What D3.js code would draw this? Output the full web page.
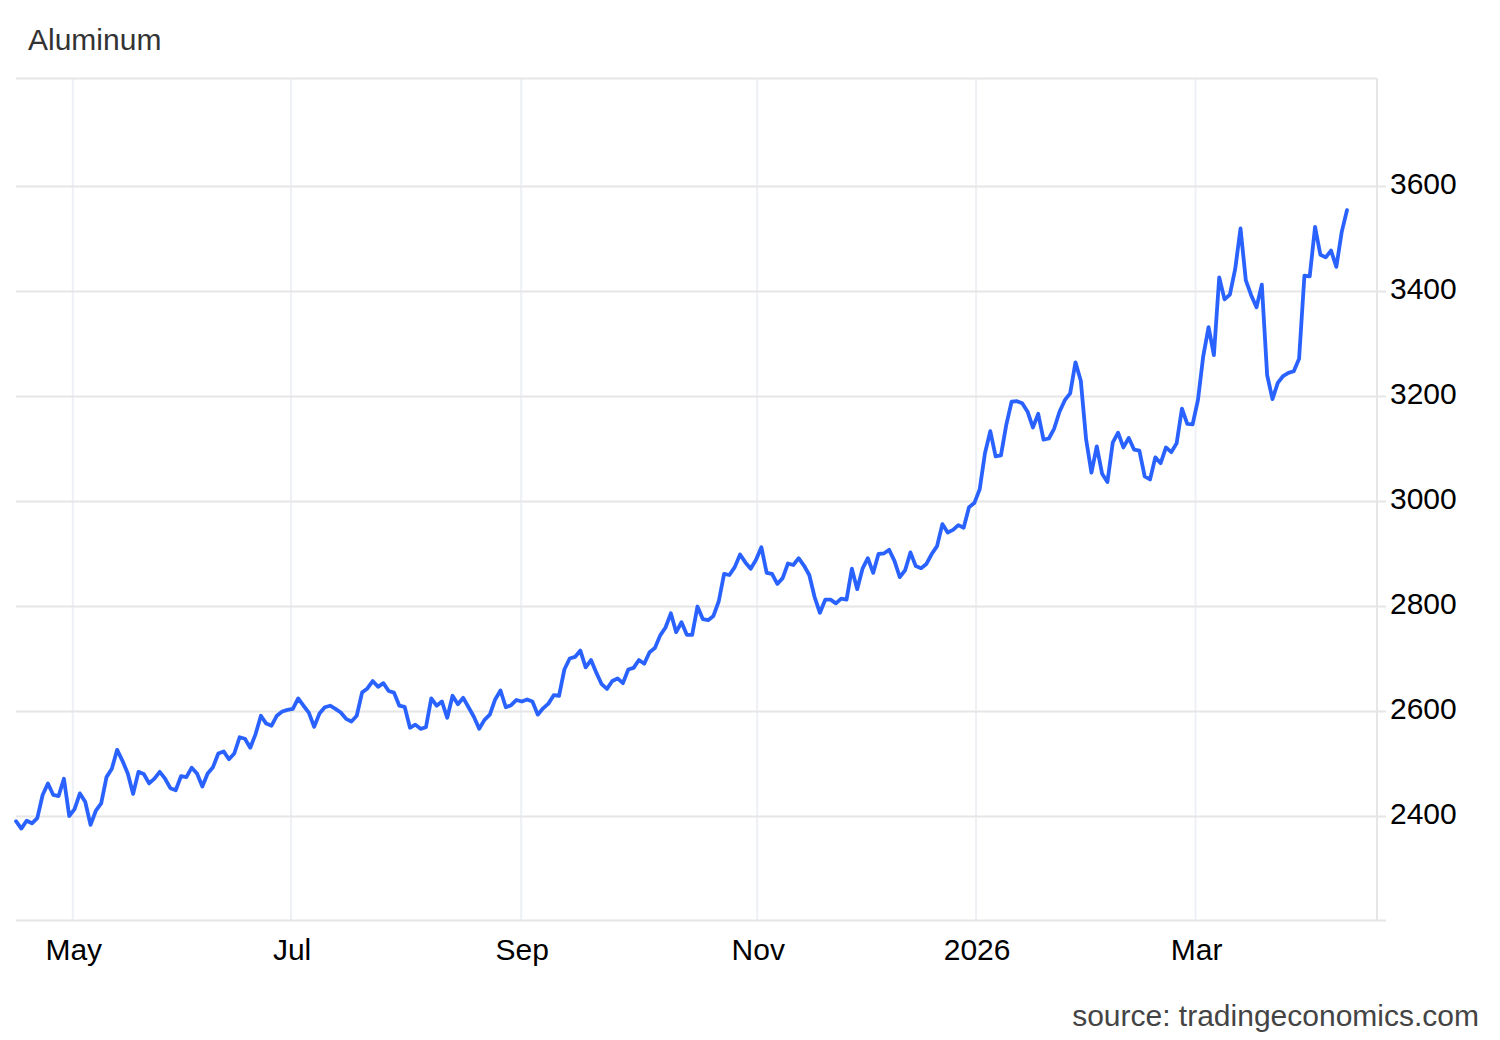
<!DOCTYPE html>
<meta charset="utf-8">

<head>
    <meta charset="utf-8">
    <title>Aluminum</title>
    <style>
        body { margin: 0; background: #fff; }
        text { font-family: "Liberation Sans", Arial, sans-serif; }
    </style>
</head>

<body>
    <svg width="1500" height="1040"></svg>
    <script src="https://d3js.org/d3.v7.min.js"></script>
    <script>
        // daily closes (USD/T), one per trading day
        var startDate = "2025-04-14";
        var holidays = ["2025-04-18", "2025-04-21", "2025-05-05", "2025-05-26", "2025-08-25",
            "2025-12-25", "2025-12-26", "2026-01-01", "2026-04-03", "2026-04-06"];
        var prices = [
            2391, 2377, 2392, 2387, 2397, 2441, 2463, 2441, 2439, 2472,
            2401, 2414, 2444, 2428, 2384, 2411, 2425, 2475, 2491, 2527,
            2506, 2482, 2443, 2485, 2481, 2463, 2472, 2485, 2472, 2454,
            2450, 2477, 2475, 2493, 2482, 2457, 2482, 2494, 2520, 2524,
            2509, 2520, 2551, 2548, 2531, 2557, 2592, 2577, 2573, 2592,
            2600, 2603, 2605, 2625, 2611, 2598, 2571, 2596, 2608, 2611,
            2605, 2598, 2586, 2581, 2592, 2636, 2644, 2658, 2647, 2654,
            2639, 2636, 2611, 2609, 2569, 2575, 2567, 2570, 2625, 2611,
            2619, 2588, 2630, 2614, 2626, 2608, 2590, 2567, 2584, 2594,
            2623, 2640, 2608, 2612, 2622, 2619, 2623, 2619, 2594, 2606,
            2615, 2631, 2630, 2680, 2701, 2704, 2716, 2684, 2698, 2674,
            2652, 2643, 2658, 2663, 2654, 2680, 2683, 2698, 2691, 2713,
            2721, 2745, 2760, 2787, 2751, 2770, 2746, 2746, 2800, 2776,
            2774, 2782, 2810, 2862, 2860, 2875, 2899, 2884, 2872, 2889,
            2913, 2864, 2862, 2843, 2854, 2882, 2879, 2892, 2878, 2860,
            2818, 2788, 2813, 2813, 2806, 2815, 2813, 2872, 2833, 2872,
            2892, 2864, 2900, 2901, 2908, 2887, 2856, 2869, 2903, 2877,
            2873, 2881, 2900, 2915, 2957, 2941, 2946, 2955, 2950, 2989,
            2997, 3023, 3092, 3134, 3086, 3088, 3146, 3190, 3191, 3187,
            3171, 3141, 3167, 3118, 3120, 3139, 3171, 3193, 3206, 3265,
            3230, 3118, 3055, 3105, 3053, 3037, 3112, 3131, 3103, 3121,
            3099, 3097, 3048, 3042, 3084, 3073, 3103, 3094, 3111, 3177,
            3148, 3147, 3193, 3277, 3332, 3279, 3427, 3385, 3394, 3443,
            3520, 3421, 3393, 3370, 3413, 3241, 3195, 3226, 3239, 3245,
            3248, 3272, 3430, 3429, 3523, 3470, 3465, 3478, 3447, 3513,
            3555
        ];
        var tickDates = ["2025-05-01", "2025-07-01", "2025-09-01", "2025-11-01", "2026-01-01", "2026-03-01"];
        var tickLabels = ["May", "Jul", "Sep", "Nov", "2026", "Mar"];
        var yTicks = [2400, 2600, 2800, 3000, 3200, 3400, 3600];

        var svg = d3.select("svg");
        var parse = d3.utcParse("%Y-%m-%d");
        var fontSize = "30px";

        // build trading days: weekdays minus exchange holidays, stamped at 08:00
        var holidaySet = new Set(holidays);
        var dates = [];
        var day = parse(startDate);
        while (dates.length < prices.length) {
            var wd = day.getUTCDay();
            if (wd != 0 && wd != 6 && !holidaySet.has(d3.utcFormat("%Y-%m-%d")(day))) {
                dates.push(d3.utcHour.offset(day, 8));
            }
            day = d3.utcDay.offset(day, 1);
        }
        var data = prices.map(function (p, i) { return { i: i, date: dates[i], value: p }; });

        // ordinal time axis: points evenly spaced, calendar ticks interpolated between them
        function ordinalIndex(t) {
            var i = d3.bisectRight(dates, t) - 1;
            if (i < 0) return 0;
            if (i >= dates.length - 1) return dates.length - 1;
            return i + (t - dates[i]) / (dates[i + 1] - dates[i]);
        }

        var plotLeft = 16, plotRight = 1377, plotTop = 78.5, plotBottom = 920.5;

        var x = d3.scaleLinear()
            .domain([0, prices.length - 1])
            .range([16, 1347]);

        var y = d3.scaleLinear()
            .domain([2200, 3800])
            .range([921.5, 81.5]);

        var g = svg.append("g");

        // vertical grid
        g.append("g")
            .selectAll("line")
            .data(tickDates)
            .enter().append("line")
            .attr("x1", function (d) { return x(ordinalIndex(parse(d))); })
            .attr("x2", function (d) { return x(ordinalIndex(parse(d))); })
            .attr("y1", plotTop)
            .attr("y2", plotBottom)
            .attr("stroke", "#edf0f4")
            .attr("stroke-width", 2);

        // horizontal grid
        g.append("g")
            .selectAll("line")
            .data(yTicks)
            .enter().append("line")
            .attr("x1", plotLeft)
            .attr("x2", plotRight + 9)
            .attr("y1", function (d) { return y(d); })
            .attr("y2", function (d) { return y(d); })
            .attr("stroke", "#e6e6e6")
            .attr("stroke-width", 2);

        // top border, bottom axis, right axis
        g.append("line")
            .attr("x1", plotLeft).attr("x2", plotRight)
            .attr("y1", plotTop).attr("y2", plotTop)
            .attr("stroke", "#e6e6e6").attr("stroke-width", 2);
        g.append("line")
            .attr("x1", plotLeft).attr("x2", plotRight + 9)
            .attr("y1", plotBottom).attr("y2", plotBottom)
            .attr("stroke", "#e6e6e6").attr("stroke-width", 2);
        g.append("line")
            .attr("x1", plotRight).attr("x2", plotRight)
            .attr("y1", plotTop).attr("y2", plotBottom)
            .attr("stroke", "#e6e6e6").attr("stroke-width", 2);

        // price line
        var line = d3.line()
            .x(function (d) { return x(d.i); })
            .y(function (d) { return y(d.value); });

        g.append("path")
            .datum(data)
            .attr("d", line)
            .attr("fill", "none")
            .attr("stroke", "#2962ff")
            .attr("stroke-width", 3.8)
            .attr("stroke-linejoin", "round")
            .attr("stroke-linecap", "round");

        // y labels on the right
        g.append("g")
            .selectAll("text")
            .data(yTicks)
            .enter().append("text")
            .attr("x", plotRight + 13)
            .attr("y", function (d) { return y(d) + 7.5; })
            .style("font-size", fontSize)
            .style("fill", "#000")
            .text(function (d) { return d; });

        // x labels
        g.append("g")
            .selectAll("text")
            .data(tickDates)
            .enter().append("text")
            .attr("x", function (d) { return x(ordinalIndex(parse(d))) + 1; })
            .attr("y", 960)
            .attr("text-anchor", "middle")
            .style("font-size", fontSize)
            .style("fill", "#000")
            .text(function (d, i) { return tickLabels[i]; });

        svg.append("text")
            .attr("x", 28)
            .attr("y", 50)
            .style("font-size", fontSize)
            .style("fill", "#333")
            .text("Aluminum");

        svg.append("text")
            .attr("x", 1479)
            .attr("y", 1026)
            .attr("text-anchor", "end")
            .style("font-size", fontSize)
            .style("fill", "#444")
            .text("source: tradingeconomics.com");
    </script>
</body>
